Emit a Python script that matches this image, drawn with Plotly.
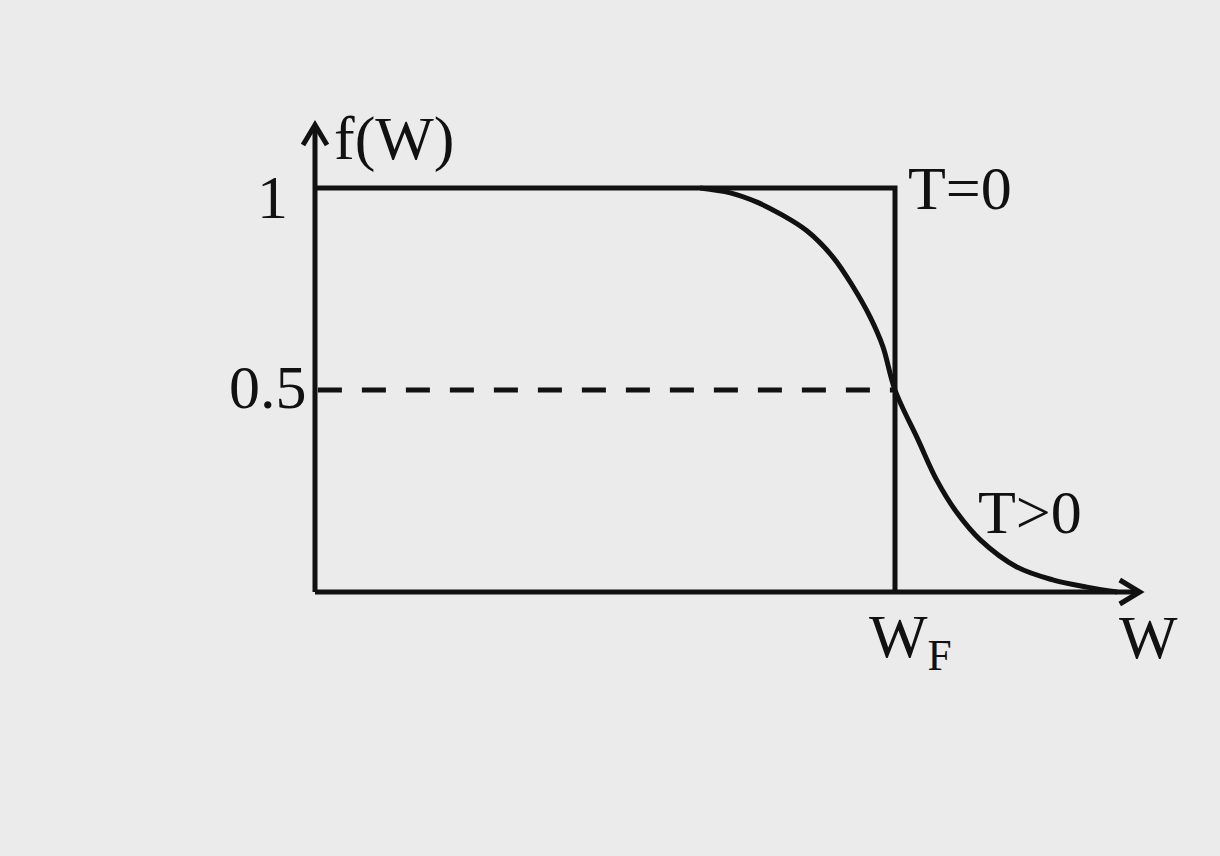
import plotly.graph_objects as go

# ---- data (W in units of W_F) ----
w_T0 = [0.0, 1.0, 1.0]
f_T0 = [1.0, 1.0, 0.0]

w_Tpos = [0.0, 0.664, 0.716, 0.762, 0.802, 0.848, 0.893, 0.928, 0.957, 0.979, 1.000,
          1.040, 1.072, 1.107, 1.147, 1.210, 1.272, 1.331, 1.383]
f_Tpos = [1.0, 1.000, 0.988, 0.965, 0.936, 0.894, 0.829, 0.755, 0.681, 0.608, 0.500,
          0.376, 0.277, 0.196, 0.129, 0.062, 0.030, 0.012, 0.0]

half_level = 0.5
w_fermi = 1.0
x_axis_end = 1.422
y_axis_end = 1.156

# ---- layout geometry ----
W, H = 1220, 856
ox, oy = 315, 592          # pixel position of origin
sx, sy = 580.0, 404.0      # pixels per data unit
xr = [-ox / sx, (W - ox) / sx]
yr = [(oy - H) / sy, oy / sy]

def px(x):  # paper coords from pixels
    return x / W
def py(y):
    return 1 - y / H

LW = 5
BLACK = "#111111"
BG = "#ebebeb"
fig = go.Figure()

# T=0 step
fig.add_trace(go.Scatter(x=w_T0, y=f_T0, mode="lines",
                         line=dict(color=BLACK, width=LW), hoverinfo="skip"))
# dashed 0.5 line
fig.add_trace(go.Scatter(x=[0.005, w_fermi], y=[half_level, half_level], mode="lines",
                         line=dict(color=BLACK, width=LW, dash="24px,20px"), hoverinfo="skip"))
# T>0 curve (flat part coincides with the T=0 line)
fig.add_trace(go.Scatter(x=w_Tpos[1:], y=f_Tpos[1:], mode="lines",
                         line=dict(color=BLACK, width=LW, shape="spline", smoothing=1.0),
                         hoverinfo="skip"))
# axes
fig.add_trace(go.Scatter(x=[0, x_axis_end], y=[0, 0], mode="lines",
                         line=dict(color=BLACK, width=LW), hoverinfo="skip"))
fig.add_trace(go.Scatter(x=[0, 0], y=[0, y_axis_end], mode="lines",
                         line=dict(color=BLACK, width=LW), hoverinfo="skip"))
# arrow chevrons
ah_back, ah_half = 20, 12
fig.add_trace(go.Scatter(
    x=[x_axis_end - ah_back / sx, x_axis_end, x_axis_end - ah_back / sx],
    y=[ah_half / sy, 0, -ah_half / sy], mode="lines",
    line=dict(color=BLACK, width=LW), hoverinfo="skip"))
fig.add_trace(go.Scatter(
    x=[-ah_half / sx, 0, ah_half / sx],
    y=[y_axis_end - ah_back / sy, y_axis_end, y_axis_end - ah_back / sy], mode="lines",
    line=dict(color=BLACK, width=LW), hoverinfo="skip"))

FONT = dict(family="Liberation Serif, Times New Roman, serif", color=BLACK, size=62)
labels = [
    ("f(W)", 394, 138),
    ("1", 272, 197),
    ("0.5", 268, 387),
    ("T=0", 960, 188),
    ("T>0", 1030, 512),
    ("W<sub>F</sub>", 910, 640),
    ("W", 1148, 637),
]
for txt, x, y in labels:
    fig.add_annotation(text=txt, x=px(x), y=py(y), xref="paper", yref="paper",
                       xanchor="center", yanchor="middle", showarrow=False, font=FONT)

fig.update_layout(
    width=W, height=H, margin=dict(l=0, r=0, t=0, b=0),
    paper_bgcolor=BG, plot_bgcolor=BG,
    showlegend=False,
    xaxis=dict(range=xr, visible=False, fixedrange=True),
    yaxis=dict(range=yr, visible=False, fixedrange=True),
)
fig.write_html(
    "out.html",
    config={"displayModeBar": False},
    post_script="document.body.style.margin='0';document.body.style.background='%s';" % BG,
)
